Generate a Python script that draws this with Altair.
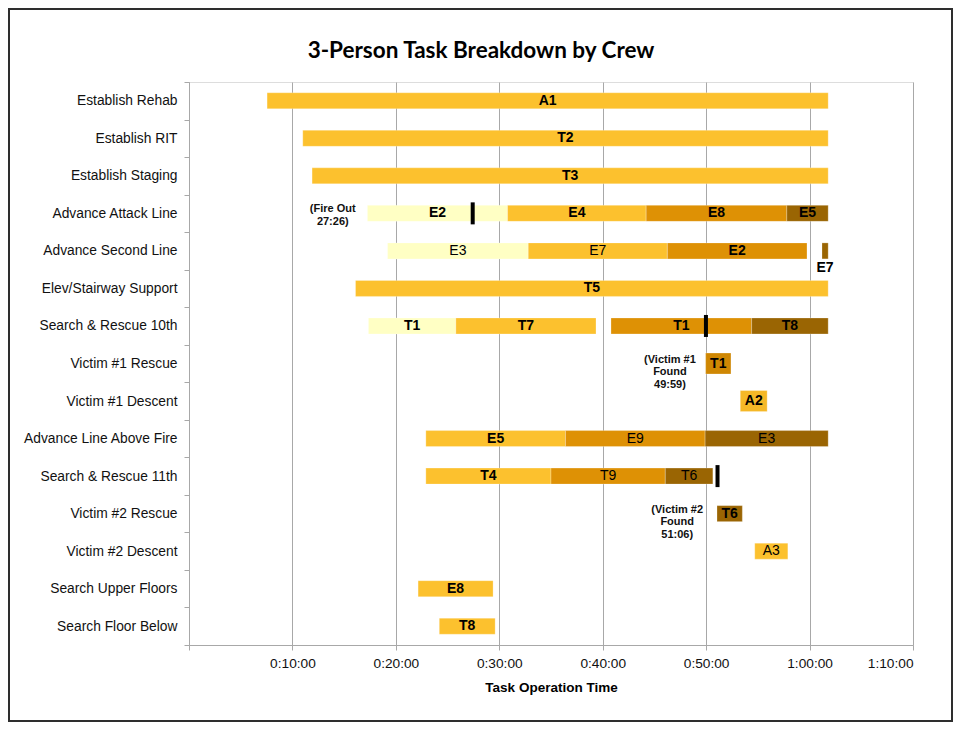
import altair as alt
import pandas as pd

# ---------------- data ----------------
tasks = ["Establish Rehab", "Establish RIT", "Establish Staging", "Advance Attack Line",
         "Advance Second Line", "Elev/Stairway Support", "Search & Rescue 10th",
         "Victim #1 Rescue", "Victim #1 Descent", "Advance Line Above Fire",
         "Search & Rescue 11th", "Victim #2 Rescue", "Victim #2 Descent",
         "Search Upper Floors", "Search Floor Below"]

seg_task = ["Establish Rehab", "Establish RIT", "Establish Staging",
            "Advance Attack Line", "Advance Attack Line", "Advance Attack Line", "Advance Attack Line",
            "Advance Second Line", "Advance Second Line", "Advance Second Line", "Advance Second Line",
            "Elev/Stairway Support",
            "Search & Rescue 10th", "Search & Rescue 10th", "Search & Rescue 10th", "Search & Rescue 10th",
            "Victim #1 Rescue", "Victim #1 Descent",
            "Advance Line Above Fire", "Advance Line Above Fire", "Advance Line Above Fire",
            "Search & Rescue 11th", "Search & Rescue 11th", "Search & Rescue 11th",
            "Victim #2 Rescue", "Victim #2 Descent", "Search Upper Floors", "Search Floor Below"]
seg_crew = ["A1", "T2", "T3",
            "E2", "E4", "E8", "E5",
            "E3", "E7", "E2", "E7",
            "T5",
            "T1", "T7", "T1", "T8",
            "T1", "A2",
            "E5", "E9", "E3",
            "T4", "T9", "T6",
            "T6", "A3", "E8", "T8"]
seg_start = [7.55, 11.0, 11.9,
             17.25, 30.8, 44.2, 57.8,
             19.2, 32.8, 46.25, 61.2,
             16.1,
             17.35, 25.8, 40.8, 54.4,
             49.95, 53.3,
             22.9, 36.4, 49.9,
             22.9, 35.0, 46.05,
             51.05, 54.7, 22.15, 24.2]
seg_end = [61.8, 61.8, 61.8,
           30.8, 44.2, 57.8, 61.8,
           32.8, 46.25, 59.75, 61.8,
           61.8,
           25.8, 39.35, 54.4, 61.8,
           52.4, 55.9,
           36.4, 49.9, 61.8,
           35.0, 46.05, 50.65,
           53.5, 57.9, 29.4, 29.6]
seg_phase = ["2nd", "2nd", "2nd",
             "1st", "2nd", "3rd", "4th",
             "1st", "2nd", "3rd", "4th",
             "2nd",
             "1st", "2nd", "3rd", "4th",
             "rescue", "descent",
             "2nd", "3rd", "4th",
             "2nd", "3rd", "4th",
             "4th", "2nd", "2nd", "2nd"]

event_task = ["Advance Attack Line", "Search & Rescue 10th", "Search & Rescue 11th"]
event_time = [27.43, 49.98, 51.1]

note_task = ["Advance Attack Line", "Victim #1 Rescue", "Victim #2 Rescue"]
note_time = [13.9, 46.5, 47.2]
note_text = ["(Fire Out\n27:26)", "(Victim #1\nFound\n49:59)", "(Victim #2\nFound\n51:06)"]

tick_values = [0, 10, 20, 30, 40, 50, 60, 70]

# ---------------- styles ----------------
phase_domain = ["1st", "2nd", "3rd", "4th", "rescue", "descent"]
phase_colors = ["#FFFFC4", "#FCC12E", "#DE9105", "#9A6503", "#CF8703", "#F5B827"]
regular_label_idx = {7, 8, 19, 20, 22, 23, 25}
below_label_idx = {10}
tall_rows = ["Victim #1 Rescue", "Victim #1 Descent"]

seg = pd.DataFrame({"task": seg_task, "crew": seg_crew, "start": seg_start,
                    "end": seg_end, "phase": seg_phase})
seg["weight"] = ["normal" if i in regular_label_idx else "bold" for i in range(len(seg))]
seg["place"] = ["below" if i in below_label_idx else "in" for i in range(len(seg))]

events = pd.DataFrame({"task": event_task, "time": event_time})
notes = pd.DataFrame({"task": note_task, "time": note_time, "text": note_text})

FONT = "Liberation Sans"
GRID = "#A8A8A8"
LBL = 14

xscale = alt.Scale(domain=[0, 70], nice=False, zero=False)
xaxis = alt.Axis(values=tick_values,
                 labelExpr="datum.value == 0 ? '' : floor(datum.value/60) + ':' + (datum.value % 60 < 10 ? '0' : '') + (datum.value % 60) + ':00'",
                 grid=True, gridColor=GRID, gridWidth=1, domainColor=GRID, tickColor=GRID,
                 tickSize=5, labelPadding=6, labelFont=FONT, labelFontSize=13.7, labelColor="#111111",
                 title="Task Operation Time", titleFont=FONT, titleFontSize=13.5,
                 titleFontWeight="bold", titleColor="#000000", titlePadding=11)
yscale = alt.Scale(domain=tasks, paddingInner=0, paddingOuter=0)
yaxis = alt.Axis(title=None, tickBand="extent", tickSize=5, tickColor=GRID, domainColor=GRID,
                 labelPadding=7, labelFont=FONT, labelFontSize=13.8, labelColor="#111111",
                 grid=False, labelLimit=300)


def X(field):
    return alt.X(field, type="quantitative", scale=xscale, axis=xaxis)


Y = alt.Y("task:N", sort=tasks, scale=yscale, axis=yaxis)

bars = alt.Chart(seg).mark_bar(stroke="white", strokeOpacity=0.25, strokeWidth=1).encode(
    x=X("start"), x2="end", y=Y,
    color=alt.Color("phase:N", scale=alt.Scale(domain=phase_domain, range=phase_colors), legend=None),
    size=alt.condition(alt.FieldOneOfPredicate(field="task", oneOf=tall_rows), alt.value(21), alt.value(16)),
)

markers = alt.Chart(events).mark_tick(color="black", thickness=4, size=22, opacity=1).encode(
    x=X("time"), y=Y)

label_base = alt.Chart(seg).transform_calculate(mid="(datum.start + datum.end) / 2")

labels_bold = label_base.transform_filter(
    "datum.weight == 'bold' && datum.place == 'in'"
).mark_text(font=FONT, fontSize=LBL, fontWeight="bold", color="black", baseline="middle").encode(
    x=X("mid"), y=Y, text="crew:N")

labels_reg = label_base.transform_filter(
    "datum.weight == 'normal' && datum.place == 'in'"
).mark_text(font=FONT, fontSize=LBL, fontWeight="normal", color="black", baseline="middle").encode(
    x=X("mid"), y=Y, text="crew:N")

labels_below = label_base.transform_filter(
    "datum.place == 'below'"
).mark_text(font=FONT, fontSize=LBL, fontWeight="bold", color="black", baseline="middle", dy=17).encode(
    x=X("mid"), y=Y, text="crew:N")

note_layer = alt.Chart(notes).mark_text(font=FONT, fontSize=11, fontWeight="bold", color="#111111",
                                        lineBreak="\n", lineHeight=12.5, baseline="middle",
                                        align="center", dy=-4).encode(
    x=X("time"), y=Y, text="text:N")

one = pd.DataFrame({"k": [0]})
title_layer = alt.Chart(one).mark_text(text="3-Person Task Breakdown by Crew", font="Lato",
                                       fontSize=22.5, fontWeight="bold", color="#000000",
                                       align="center", baseline="alphabetic").encode(
    x=alt.value(292), y=alt.value(-24))

frame = alt.Chart(one).mark_rect(filled=False, stroke="#2E2E2E", strokeWidth=2).encode(
    x=alt.value(-180), x2=alt.value(763), y=alt.value(-73), y2=alt.value(639))

chart = alt.layer(bars, markers, labels_bold, labels_reg, labels_below, note_layer,
                  title_layer, frame).properties(
    width=724, height=563,
    autosize=alt.AutoSizeParams(type="none"),
    padding={"left": 181, "top": 74, "right": 40, "bottom": 77},
).configure_view(stroke="#C8C8C8", strokeWidth=1).configure(background="white")

chart.save("out.html", embed_options={"renderer": "svg", "actions": False})
